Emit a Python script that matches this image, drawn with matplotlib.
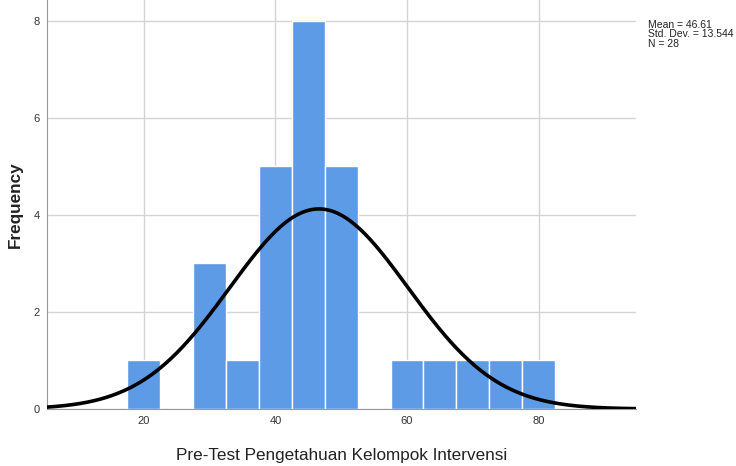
import numpy as np
import matplotlib.pyplot as plt

plt.rcParams["font.family"] = ["Liberation Sans", "DejaVu Sans"]

# bin centres and counts
bin_centers = [20, 25, 30, 35, 40, 45, 50, 55, 60, 65, 70, 75, 80]
counts = [1, 0, 3, 1, 5, 8, 5, 0, 1, 1, 1, 1, 1]
bin_width = 5
mean = 46.61
std = 13.544
n = 28
x_ticks = [20, 40, 60, 80]
y_ticks = [0, 2, 4, 6, 8]

fig = plt.figure(figsize=(7.36, 4.66), dpi=100)
ax = fig.add_axes([0.0639, 0.1223, 0.8003, 0.8777])

ax.bar(bin_centers, counts, width=bin_width, color="#5e9be6",
       edgecolor="white", linewidth=1, zorder=2)

# normal curve scaled to counts
xs = np.linspace(5, 95, 400)
ys = n * bin_width / (std * np.sqrt(2 * np.pi)) * np.exp(-0.5 * ((xs - mean) / std) ** 2)
ax.plot(xs, ys, color="black", linewidth=2.6, zorder=3)

ax.set_xlim(5.3, 94.8)
ax.set_ylim(0, 8.43)
ax.set_xticks(x_ticks)
ax.set_yticks(y_ticks)
ax.grid(True, color="#d4d4d4", linewidth=1, zorder=0)
ax.set_axisbelow(True)
ax.tick_params(length=0, labelsize=8, colors="#333333", pad=5)

for s in ["top", "right"]:
    ax.spines[s].set_visible(False)
ax.spines["left"].set_color("#999999")
ax.spines["bottom"].set_color("#999999")

ax.set_xlabel("Pre-Test Pengetahuan Kelompok Intervensi", fontsize=12.3,
              color="#222222", labelpad=16)
ax.set_ylabel("Frequency", fontsize=12.3, fontweight="bold",
              color="#222222", labelpad=8)

fig.text(0.880, 0.958, "Mean = %.2f\nStd. Dev. = %.3f\nN = %d" % (mean, std, n),
         fontsize=7.5, va="top", ha="left", linespacing=0.98, color="#222222")

fig.savefig("out.png", dpi=100)
